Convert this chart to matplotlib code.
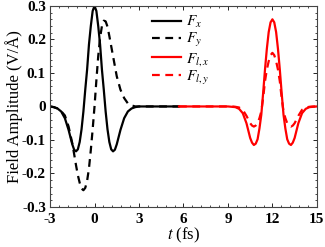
import matplotlib
matplotlib.use('Agg')
import matplotlib.pyplot as plt
from matplotlib.ticker import MultipleLocator

# Data (time in fs, field in V/A)
t_pulse = [-3.0, -2.75, -2.5, -2.25, -2.0, -1.75,
           -1.5, -1.375, -1.25, -1.125, -1.0, -0.875, -0.75, -0.625, -0.5, -0.375, -0.25, -0.125,
           0.0, 0.125, 0.25, 0.375, 0.5, 0.625, 0.75, 0.875, 1.0, 1.125, 1.25, 1.375, 1.5,
           1.75, 2.0, 2.25, 2.5, 2.75, 3.0, 4.0, 5.7]
fx = [0.0, -0.002, -0.006, -0.015, -0.035, -0.07,
      -0.113, -0.129, -0.134, -0.128, -0.106, -0.068, -0.015, 0.05, 0.11, 0.185, 0.24, 0.285,
      0.3, 0.285, 0.24, 0.185, 0.11, 0.05, -0.015, -0.068, -0.106, -0.128, -0.134, -0.129, -0.113,
      -0.07, -0.035, -0.015, -0.006, -0.002, 0.0, 0.0, 0.0]
fy = [0.0, -0.002, -0.006, -0.014, -0.027, -0.06,
      -0.11, -0.142, -0.175, -0.205, -0.228, -0.245, -0.25, -0.243, -0.222, -0.185, -0.13, -0.068,
      0.0, 0.078, 0.15, 0.205, 0.24, 0.256, 0.254, 0.238, 0.21, 0.18, 0.15, 0.12, 0.09,
      0.05, 0.025, 0.009, 0.003, 0.0, 0.0, 0.0, 0.0]

t_late = [5.7, 9.0, 9.25, 9.5, 9.75, 10.0, 10.25, 10.5,
          10.625, 10.75, 10.875, 11.0, 11.125, 11.25, 11.375, 11.5, 11.625, 11.75, 11.875,
          12.0, 12.125, 12.25, 12.375, 12.5, 12.625, 12.75, 12.875, 13.0, 13.125, 13.25, 13.375,
          13.5, 13.75, 14.0, 14.25, 14.5, 14.75, 15.0]
flx = [0.0, 0.0, -0.001, -0.002, -0.007, -0.02, -0.05, -0.094,
       -0.108, -0.115, -0.111, -0.098, -0.066, -0.025, 0.04, 0.11, 0.172, 0.222, 0.251,
       0.26, 0.251, 0.222, 0.172, 0.11, 0.04, -0.025, -0.066, -0.098, -0.111, -0.115, -0.108,
       -0.094, -0.05, -0.02, -0.007, -0.002, -0.001, 0.0]
fly = [0.0, 0.0, 0.0, -0.001, -0.003, -0.01, -0.028, -0.05,
       -0.057, -0.06, -0.057, -0.05, -0.035, -0.015, 0.025, 0.075, 0.11, 0.135, 0.153,
       0.16, 0.153, 0.135, 0.11, 0.075, 0.025, -0.015, -0.035, -0.05, -0.057, -0.06, -0.057,
       -0.05, -0.028, -0.01, -0.003, -0.001, 0.0, 0.0]

xticks = [-3, 0, 3, 6, 9, 12, 15]
yticks = [-0.3, -0.2, -0.1, 0, 0.1, 0.2, 0.3]
ytick_labels = ['-0.3', '-0.2', '-0.1', '0', '0.1', '0.2', '0.3']

plt.rcParams['font.family'] = ['Liberation Serif', 'DejaVu Serif']
plt.rcParams['mathtext.fontset'] = 'stix'

fig = plt.figure(figsize=(3.25, 2.47), dpi=100)
ax = fig.add_axes([0.154, 0.162, 0.821, 0.814])

lw = 1.6
dash = (0, (3.5, 2.5))
ax.plot(t_pulse, fx, color='black', lw=lw, label='$F_x$')
ax.plot(t_pulse, fy, color='black', lw=lw, ls=dash, label='$F_y$')
ax.plot(t_late, flx, color='red', lw=lw, label='$F_{l,x}$')
ax.plot(t_late, fly, color='red', lw=lw, ls=dash, label='$F_{l,y}$')

ax.set_xlim(-3, 15)
ax.set_ylim(-0.3, 0.3)
ax.set_xticks(xticks)
ax.set_xticklabels([str(v) for v in xticks])
ax.set_yticks(yticks)
ax.set_yticklabels(ytick_labels)
ax.xaxis.set_minor_locator(MultipleLocator(0.6))
ax.yaxis.set_minor_locator(MultipleLocator(0.02))
ax.tick_params(which='both', direction='in', top=True, right=True, labelsize=11)
ax.tick_params(axis='x', pad=4)
ax.tick_params(axis='y', pad=3)
ax.tick_params(which='major', length=3, width=0.6)
ax.tick_params(which='minor', length=1.5, width=0.5)
for lab in ax.get_xticklabels() + ax.get_yticklabels():
    lab.set_fontweight('bold')
for sp in ax.spines.values():
    sp.set_linewidth(0.8)
    sp.set_color('#444444')

ax.set_xlabel('$t$ (fs)', fontsize=12, labelpad=0)
ax.set_ylabel('Field Amplitude (V/Å)', fontsize=12, labelpad=-1)

ax.legend(loc='upper left', bbox_to_anchor=(0.36, 0.99), frameon=False, fontsize=11,
          handlelength=1.9, handletextpad=0.3, labelspacing=0.08, borderaxespad=0)

fig.savefig('out.png', dpi=100)
